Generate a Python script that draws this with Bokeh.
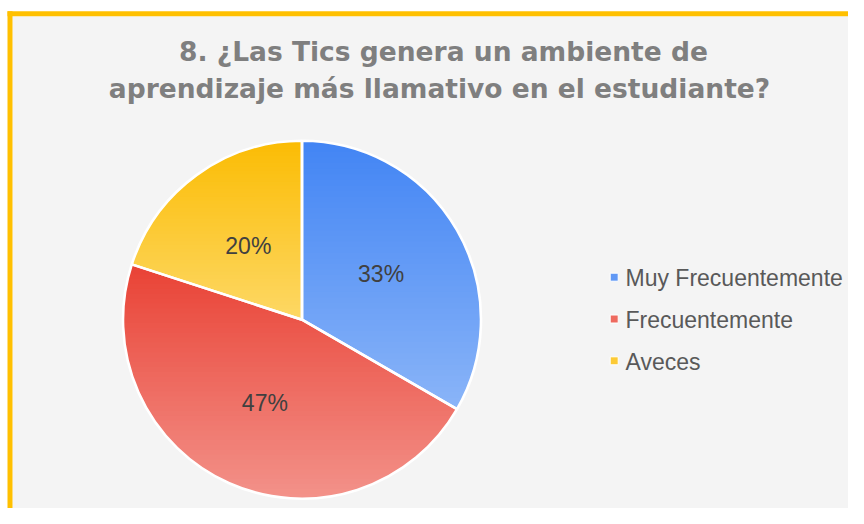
import numpy as np
from bokeh.plotting import figure
from bokeh.models import Range1d
from bokeh.core.properties import value
from bokeh.embed import file_html
from bokeh.resources import INLINE

# ---- data ----
title_lines = ["8. ¿Las Tics genera un ambiente de",
               "aprendizaje más llamativo en el estudiante?"]
categories = ["Muy Frecuentemente", "Frecuentemente", "Aveces"]
counts = [5, 7, 3]

# ---- styles ----
top_colors = ["#4285f4", "#e94235", "#fbbc04"]
bottom_colors = ["#8ab4f8", "#f3928a", "#fdd865"]
legend_colors = ["#6098f5", "#ee6a5f", "#fcca35"]

W, H = 848, 508
p = figure(width=W, height=H, x_range=Range1d(0, W), y_range=Range1d(0, H),
           output_backend="svg", toolbar_location=None,
           x_axis_type=None, y_axis_type=None, min_border=0)
p.outline_line_color = None
p.grid.visible = False
p.background_fill_color = "white"
p.border_fill_color = "white"

# chart area background and gold frame
p.quad(left=12, right=W + 5, bottom=-5, top=492.3, fill_color="#f4f4f4", line_color=None)
p.quad(left=7, right=12, bottom=-5, top=497.3, fill_color="#ffc000", line_color=None)
p.quad(left=7, right=W + 5, bottom=492.3, top=497.3, fill_color="#ffc000", line_color=None)

# ---- pie ----
cx, cy, R = 301.5, 188.8, 179.0
vals = np.array(counts, dtype=float)
frac = vals / vals.sum()
cum = np.concatenate([[0.0], np.cumsum(frac)])
starts = np.pi / 2 - 2 * np.pi * cum[:-1]
ends = np.pi / 2 - 2 * np.pi * cum[1:]

p.wedge(x=cx, y=cy, radius=R, start_angle=starts, end_angle=ends,
        direction="clock", fill_color=top_colors, line_color=None)


def clip_above(xs, ys, t):
    ox, oy = [], []
    n = len(xs)
    for i in range(n):
        x1, y1 = xs[i], ys[i]
        x2, y2 = xs[(i + 1) % n], ys[(i + 1) % n]
        in1, in2 = y1 >= t, y2 >= t
        if in1:
            ox.append(x1); oy.append(y1)
        if in1 != in2:
            r = (t - y1) / (y2 - y1)
            ox.append(x1 + r * (x2 - x1)); oy.append(t)
    return ox, oy


def hex2rgb(h):
    h = h.lstrip("#")
    return np.array([int(h[i:i + 2], 16) for i in (0, 2, 4)], dtype=float)


gx, gy, gc = [], [], []
N = 48
for i in range(len(counts)):
    a = np.linspace(starts[i], ends[i], 240)
    xs = [cx] + list(cx + R * np.cos(a))
    ys = [cy] + list(cy + R * np.sin(a))
    ymin, ymax = min(ys), max(ys)
    ct, cb = hex2rgb(top_colors[i]), hex2rgb(bottom_colors[i])
    for k in range(N):
        t = ymin + (ymax - ymin) * k / N
        px, py = clip_above(xs, ys, t)
        if len(px) < 3:
            continue
        f = (k + 0.5) / N
        c = cb * (1 - f) + ct * f
        gx.append(px); gy.append(py)
        gc.append("#%02x%02x%02x" % tuple(int(round(v)) for v in c))
p.patches(gx, gy, fill_color=gc, line_color=None)

p.wedge(x=cx, y=cy, radius=R, start_angle=starts, end_angle=ends,
        direction="clock", fill_color=None, line_color="white", line_width=2.6)

# percentage labels
mids = (starts + ends) / 2
lab_r = 0.51 * R
pct = ["%d%%" % round(100 * f) for f in frac]
p.text(x=cx + lab_r * np.cos(mids), y=cy + lab_r * np.sin(mids), text=pct,
       text_font=value("Liberation Sans"), text_font_size="23px",
       text_color="#404040", text_align="center", text_baseline="middle")

# legend
ly = [231.3 - 41.8 * i for i in range(len(categories))]
p.rect(x=[613.7] * len(categories), y=ly, width=8, height=8,
       width_units="screen", height_units="screen",
       fill_color=legend_colors, line_color="white", line_width=1)
p.text(x=[625] * len(categories), y=ly, text=categories,
       text_font=value("Liberation Sans"), text_font_size="23px",
       text_color="#595959", text_align="left", text_baseline="middle",
       y_offset=1)

# title
p.text(x=[443, 439], y=[457.3, 420.1], text=title_lines,
       text_font=value("DejaVu Sans"), text_font_style="bold",
       text_font_size="26.5px", text_color="#7f7f7f",
       text_align="center", text_baseline="middle")

open("out.html", "w").write(file_html(p, INLINE))
